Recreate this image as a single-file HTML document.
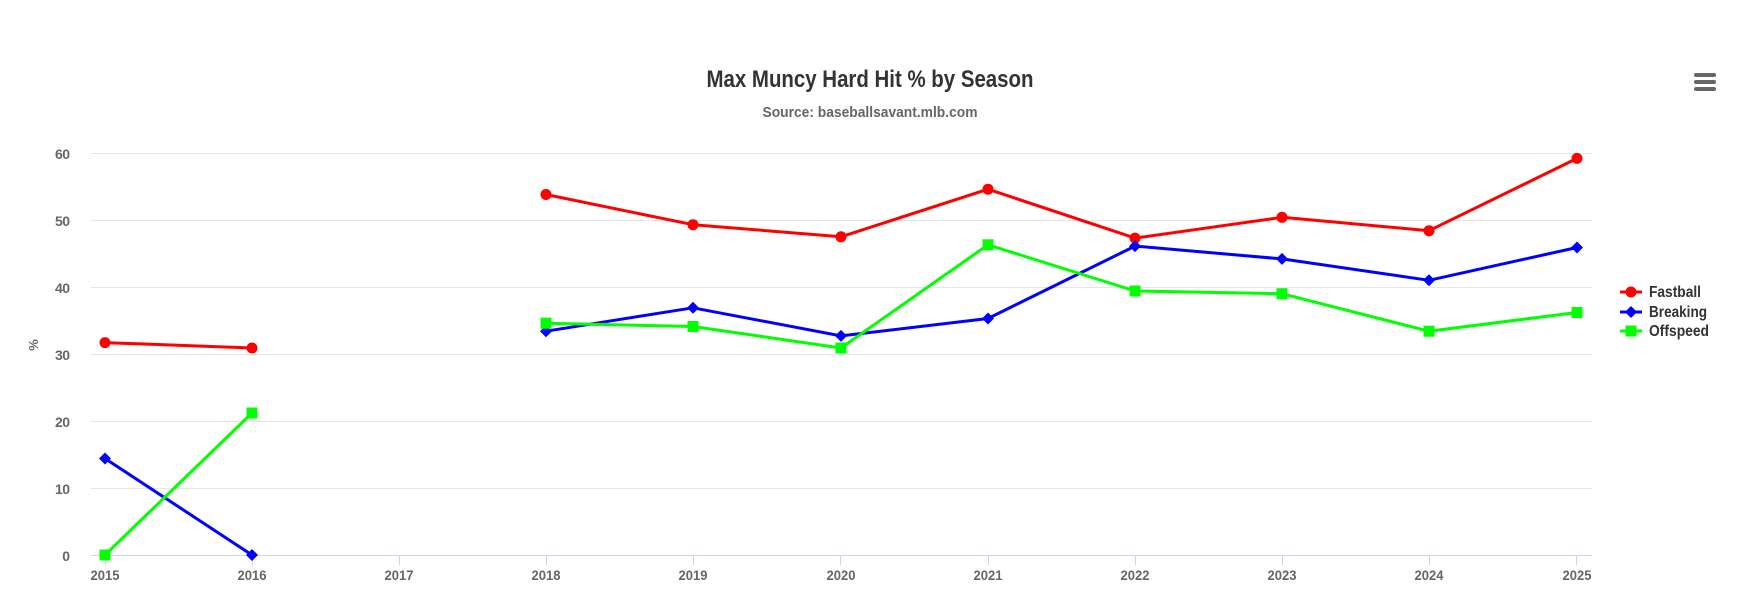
<!DOCTYPE html>
<html><head><meta charset="utf-8"><style>
html,body{margin:0;padding:0;background:#fff;width:1752px;height:604px;overflow:hidden}
svg text{font-family:"Liberation Sans Narrow","Liberation Sans",sans-serif;font-weight:bold}
</style></head><body>
<svg width="1752" height="604" viewBox="0 0 1752 604" xmlns="http://www.w3.org/2000/svg">
<text x="870" y="87" text-anchor="middle" font-size="24" fill="#333" textLength="327" lengthAdjust="spacingAndGlyphs">Max Muncy Hard Hit % by Season</text>
<text x="870" y="117" text-anchor="middle" font-size="15" fill="#666" textLength="215" lengthAdjust="spacingAndGlyphs">Source: baseballsavant.mlb.com</text>
<g fill="#666" stroke="#666" stroke-width="4" stroke-linecap="round">
<line x1="1696" y1="75" x2="1714" y2="75"/><line x1="1696" y1="82" x2="1714" y2="82"/><line x1="1696" y1="89" x2="1714" y2="89"/>
</g>
<g stroke="#e6e6e6" stroke-width="1">
<line x1="91" y1="153.5" x2="1592" y2="153.5"/><line x1="91" y1="220.5" x2="1592" y2="220.5"/><line x1="91" y1="287.5" x2="1592" y2="287.5"/><line x1="91" y1="354.5" x2="1592" y2="354.5"/><line x1="91" y1="421.5" x2="1592" y2="421.5"/><line x1="91" y1="488.5" x2="1592" y2="488.5"/>
</g>
<line x1="91" y1="555.5" x2="1592" y2="555.5" stroke="#ccd6eb"/>
<g stroke="#ccd6eb"><line x1="105.5" y1="556" x2="105.5" y2="565"/><line x1="252.5" y1="556" x2="252.5" y2="565"/><line x1="399.5" y1="556" x2="399.5" y2="565"/><line x1="546.5" y1="556" x2="546.5" y2="565"/><line x1="693.5" y1="556" x2="693.5" y2="565"/><line x1="840.5" y1="556" x2="840.5" y2="565"/><line x1="988.5" y1="556" x2="988.5" y2="565"/><line x1="1135.5" y1="556" x2="1135.5" y2="565"/><line x1="1282.5" y1="556" x2="1282.5" y2="565"/><line x1="1429.5" y1="556" x2="1429.5" y2="565"/><line x1="1576.5" y1="556" x2="1576.5" y2="565"/></g>
<g font-size="14" fill="#666" text-anchor="end" lengthAdjust="spacingAndGlyphs">
<text x="70" y="159" textLength="15">60</text><text x="70" y="226" textLength="15">50</text><text x="70" y="293" textLength="15">40</text><text x="70" y="360" textLength="15">30</text><text x="70" y="427" textLength="15">20</text><text x="70" y="494" textLength="15">10</text><text x="70" y="561" textLength="7.5">0</text>
</g>
<g font-size="14" fill="#666" text-anchor="middle">
<text x="105" y="580" textLength="29" lengthAdjust="spacingAndGlyphs">2015</text><text x="252" y="580" textLength="29" lengthAdjust="spacingAndGlyphs">2016</text><text x="399" y="580" textLength="29" lengthAdjust="spacingAndGlyphs">2017</text><text x="546" y="580" textLength="29" lengthAdjust="spacingAndGlyphs">2018</text><text x="693" y="580" textLength="29" lengthAdjust="spacingAndGlyphs">2019</text><text x="841" y="580" textLength="29" lengthAdjust="spacingAndGlyphs">2020</text><text x="988" y="580" textLength="29" lengthAdjust="spacingAndGlyphs">2021</text><text x="1135" y="580" textLength="29" lengthAdjust="spacingAndGlyphs">2022</text><text x="1282" y="580" textLength="29" lengthAdjust="spacingAndGlyphs">2023</text><text x="1429" y="580" textLength="29" lengthAdjust="spacingAndGlyphs">2024</text><text x="1577" y="580" textLength="29" lengthAdjust="spacingAndGlyphs">2025</text>
</g>
<text x="0" y="0" font-size="13" fill="#666" text-anchor="middle" transform="translate(38,345) rotate(-90)">%</text>
<g fill="none" stroke-width="3" stroke-linejoin="round">
<polyline stroke="#ff0000" points="105,342.6 252,348"/>
<polyline stroke="#ff0000" points="546,194.5 693,224.7 841,236.8 988,189.2 1135,238.1 1282,217.3 1429,230.7 1577,158.4"/>
<polyline stroke="#0000ff" points="105,458.5 252,555"/>
<polyline stroke="#0000ff" points="546,331.2 693,307.8 841,335.9 988,318.5 1135,246.1 1282,258.9 1429,280.3 1577,247.5"/>
<polyline stroke="#00ff00" points="105,555 252,413"/>
<polyline stroke="#00ff00" points="546,323.2 693,326.5 841,348 988,244.8 1135,291 1282,293.7 1429,331.2 1577,312.5"/>
</g>
<g fill="#ff0000">
<circle cx="105" cy="342.6" r="5.5"/><circle cx="252" cy="348" r="5.5"/><circle cx="546" cy="194.5" r="5.5"/><circle cx="693" cy="224.7" r="5.5"/><circle cx="841" cy="236.8" r="5.5"/><circle cx="988" cy="189.2" r="5.5"/><circle cx="1135" cy="238.1" r="5.5"/><circle cx="1282" cy="217.3" r="5.5"/><circle cx="1429" cy="230.7" r="5.5"/><circle cx="1577" cy="158.4" r="5.5"/>
</g>
<g fill="#0000ff">
<path d="M105 452.5l6 6-6 6-6-6z"/><path d="M252 549l6 6-6 6-6-6z"/><path d="M546 325.2l6 6-6 6-6-6z"/><path d="M693 301.8l6 6-6 6-6-6z"/><path d="M841 329.9l6 6-6 6-6-6z"/><path d="M988 312.5l6 6-6 6-6-6z"/><path d="M1135 240.1l6 6-6 6-6-6z"/><path d="M1282 252.9l6 6-6 6-6-6z"/><path d="M1429 274.3l6 6-6 6-6-6z"/><path d="M1577 241.5l6 6-6 6-6-6z"/>
</g>
<g fill="#00ff00">
<rect x="99.5" y="549.5" width="11" height="11"/><rect x="246.5" y="407.5" width="11" height="11"/><rect x="540.5" y="317.7" width="11" height="11"/><rect x="687.5" y="321" width="11" height="11"/><rect x="835.5" y="342.5" width="11" height="11"/><rect x="982.5" y="239.3" width="11" height="11"/><rect x="1129.5" y="285.5" width="11" height="11"/><rect x="1276.5" y="288.2" width="11" height="11"/><rect x="1423.5" y="325.7" width="11" height="11"/><rect x="1571.5" y="307" width="11" height="11"/>
</g>
<g stroke-width="3">
<line x1="1620" y1="292" x2="1642" y2="292" stroke="#ff0000"/><circle cx="1631" cy="292" r="5.5" fill="#ff0000"/>
<line x1="1620" y1="312" x2="1642" y2="312" stroke="#0000ff"/><path d="M1631 306l6 6-6 6-6-6z" fill="#0000ff"/>
<line x1="1620" y1="331" x2="1642" y2="331" stroke="#00ff00"/><rect x="1625.5" y="325.5" width="11" height="11" fill="#00ff00"/>
</g>
<g font-size="16" fill="#333">
<text x="1649" y="297" textLength="52" lengthAdjust="spacingAndGlyphs">Fastball</text><text x="1649" y="317" textLength="58" lengthAdjust="spacingAndGlyphs">Breaking</text><text x="1649" y="336" textLength="60" lengthAdjust="spacingAndGlyphs">Offspeed</text>
</g>
</svg>
</body></html>
